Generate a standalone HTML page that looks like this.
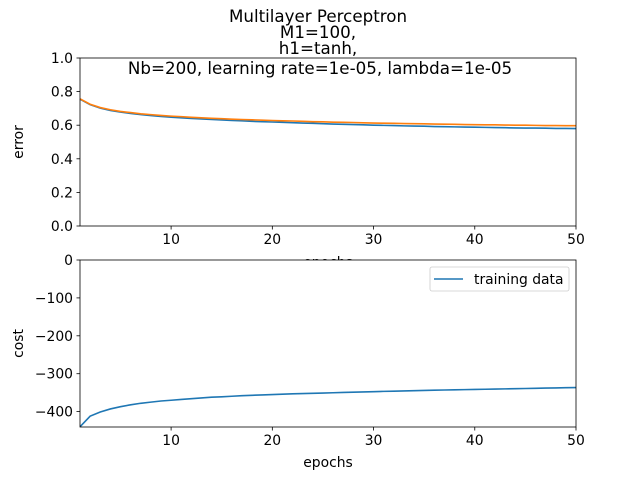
<!DOCTYPE html>
<html><head><meta charset="utf-8"><style>body{margin:0;background:#fff}svg{display:block;font-family:"DejaVu Sans","Liberation Sans",sans-serif}</style></head>
<body>
<svg id="c" width="640" height="480" viewBox="0 0 640 480">
<rect width="640" height="480" fill="#fff"/>
<g id="topAx"></g>
<g id="botAx"></g>
<g font-size="16.7" text-anchor="middle" fill="#000">
<text x="318" y="22">Multilayer Perceptron</text>
<text x="318" y="38">M1=100,</text>
<text x="318" y="54">h1=tanh,</text>
<text x="320" y="74">Nb=200, learning rate=1e-05, lambda=1e-05</text>
</g>
</svg>
<script>
const epochs=[];for(let i=1;i<=50;i++)epochs.push(i);
const trainErr=[0.755,0.722,0.702,0.688,0.678,0.670,0.663,0.657,0.652,0.648,0.644,0.640,0.637,0.634,0.631,0.628,0.626,0.623,0.621,0.619,0.617,0.615,0.613,0.611,0.609,0.607,0.605,0.604,0.602,0.600,0.599,0.598,0.596,0.595,0.594,0.592,0.591,0.590,0.589,0.588,0.587,0.586,0.585,0.584,0.583,0.583,0.582,0.581,0.581,0.580];
const testErr=[0.757,0.725,0.705,0.692,0.682,0.675,0.668,0.663,0.658,0.654,0.651,0.647,0.644,0.641,0.639,0.636,0.634,0.632,0.630,0.628,0.626,0.625,0.623,0.621,0.620,0.618,0.617,0.616,0.614,0.613,0.612,0.611,0.610,0.609,0.608,0.607,0.606,0.605,0.604,0.603,0.602,0.602,0.601,0.600,0.600,0.599,0.598,0.598,0.597,0.597];
const trainCost=[-440,-412,-401,-393,-387,-382,-378,-375,-372,-370,-368,-366,-364,-362,-361,-359.5,-358,-357,-356,-355,-354,-353,-352.3,-351.6,-351,-350.2,-349.5,-348.8,-348,-347.3,-346.6,-346,-345.4,-344.8,-344.2,-343.6,-343,-342.5,-342,-341.5,-341,-340.5,-340,-339.5,-339,-338.5,-338,-337.5,-337,-336.5];
const xTicks=[10,20,30,40,50];
const topYTicks=[0,0.2,0.4,0.6,0.8,1.0];
const topYLabels=["0.0","0.2","0.4","0.6","0.8","1.0"];
const botYTicks=[0,-100,-200,-300,-400];
const botYLabels=["0","−100","−200","−300","−400"];
const NS="http://www.w3.org/2000/svg";
function mk(p,t,a){const e=document.createElementNS(NS,t);for(const k in a)e.setAttribute(k,a[k]);p.appendChild(e);return e;}
const L=80,R=576;
const xs=v=>L+(v-1)/(49)*(R-L);
function axes(g,T,B,ymin,ymax,yt,yl,ylabel){
  const ys=v=>B-(v-ymin)/(ymax-ymin)*(B-T);
  const bg=mk(g,'rect',{x:L,y:T,width:R-L,height:B-T,fill:'#fff'});
  
  
  xTicks.forEach(v=>{mk(g,'line',{x1:xs(v),x2:xs(v),y1:B,y2:B+3.5,stroke:'#000','stroke-width':0.8});
    const t=mk(g,'text',{x:xs(v),y:B+18,'font-size':13.9,'text-anchor':'middle'});t.textContent=v;
    
    });
  yt.forEach((v,i)=>{mk(g,'line',{x1:L-3.5,x2:L,y1:ys(v),y2:ys(v),stroke:'#000','stroke-width':0.8});
    const t=mk(g,'text',{x:L-7,y:ys(v)+5,'font-size':13.9,'text-anchor':'end'});t.textContent=yl[i];
    
    });
  const yt2=mk(g,'text',{x:0,y:0,'font-size':13.9,'text-anchor':'middle',transform:`translate(23,${(T+B)/2}) rotate(-90)`});yt2.textContent=ylabel;
  
  
  return ys;
}
function line(g,ys,data,col,name){
  const d=data.map((v,i)=>(i?'L':'M')+xs(epochs[i]).toFixed(2)+','+ys(v).toFixed(2)).join('');
  const p=mk(g,'path',{d:d,fill:'none',stroke:col,'stroke-width':1.6});
  
  
}
function frame(g,T,B){const r=mk(g,'rect',{x:L,y:T,width:R-L,height:B-T,fill:'none',stroke:'#000','stroke-width':0.8});
  
  }
const topG=document.getElementById('topAx');
const ysT=axes(topG,58,226,0,1,topYTicks,topYLabels,'error');
line(topG,ysT,trainErr,'#1f77b4','training-error-line');
line(topG,ysT,testErr,'#ff7f0e','test-error-line');
frame(topG,58,226);
const xl1=mk(topG,'text',{x:328,y:267,'font-size':13.9,'text-anchor':'middle'});xl1.textContent='epochs';


const botG=document.getElementById('botAx');
const ysB=axes(botG,260,427,-440.6,0,botYTicks,botYLabels,'cost');
const cp=mk(botG,'clipPath',{id:'cb'});mk(cp,'rect',{x:L,y:260,width:R-L,height:167});
const gl=mk(botG,'g',{'clip-path':'url(#cb)'});
line(gl,ysB,trainCost,'#1f77b4','training-cost-line');
frame(botG,260,427);
const xl2=mk(botG,'text',{x:328,y:467,'font-size':13.9,'text-anchor':'middle'});xl2.textContent='epochs';


const lg=mk(botG,'g',{});


mk(lg,'rect',{x:430,y:267,width:139,height:24,rx:2,fill:'#fff',stroke:'#ccc','stroke-width':0.8});
mk(lg,'line',{x1:434,x2:463,y1:279,y2:279,stroke:'#1f77b4','stroke-width':1.6});
const lt=mk(lg,'text',{x:474,y:284,'font-size':13.9});lt.textContent='training data';


</script>
</body></html>
